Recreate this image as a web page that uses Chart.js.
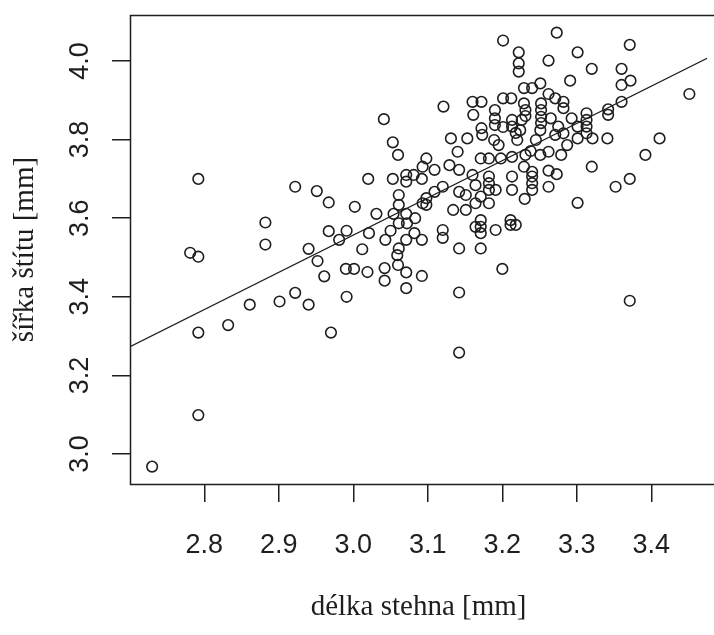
<!DOCTYPE html>
<html><head><meta charset="utf-8">
<script src="https://cdn.jsdelivr.net/npm/chart.js@4/dist/chart.umd.min.js"></script>
<style>html,body{margin:0;padding:0;background:#fff;overflow:hidden}</style>
</head><body>
<canvas id="c" width="714" height="635" style="width:714px;height:635px;display:block"></canvas>
<script>
// délka stehna [mm] (x) and šířka štítu [mm] (y)
const thighLength = [
2.730,2.792,2.792,2.792,2.781,2.792,2.832,2.861,2.882,2.882,2.901,2.922,2.922,2.940,2.940,2.951,2.952,2.961,2.967,2.967,
2.970,3.002,3.031,3.054,3.061,3.061,3.071,3.083,3.093,2.991,2.981,3.021,3.043,3.050,3.061,3.072,3.082,3.092,3.071,3.061,
3.059,3.012,2.990,3.001,3.019,3.042,3.060,3.071,3.092,3.042,3.071,2.991,3.142,3.142,3.142,3.171,3.200,3.120,3.120,
3.041,3.053,3.060,3.098,3.020,3.053,3.071,3.081,3.071,3.092,
3.201,3.222,3.222,3.222,3.229,3.121,3.160,3.172,3.161,3.201,3.212,3.190,3.190,3.190,3.172,3.213,3.213,3.226,3.229,
3.273,3.371,3.301,3.262,3.320,3.360,3.291,3.372,3.360,3.451,3.251,3.240,3.262,3.271,3.282,3.360,3.342,3.342,3.313,3.313,
3.313,3.313,3.231,3.231,3.252,3.252,3.252,3.252,3.293,3.282,3.301,3.275,3.321,3.301,3.341,3.411,3.392,3.279,3.262,3.251,
3.231,3.320,3.371,3.352,3.273,3.262,3.240,3.240,3.240,3.240,3.262,3.229,3.230,3.301,3.218,3.371,
3.245,3.271,3.287,3.265,3.220,3.238,3.224,3.282,3.251,3.201,3.218,3.195,
3.131,3.140,3.093,3.109,3.129,3.142,3.160,3.153,3.173,3.189,3.171,3.182,3.198,3.213,3.213,3.213,3.182,3.182,3.182,3.191,
3.164,3.142,3.151,3.120,3.109,3.098,3.098,3.134,3.151,3.164,3.171,3.182,3.171,3.171,3.171,3.164,3.191,3.211,3.211
];
const shieldWidth = [
2.968,3.099,3.309,3.700,3.512,3.502,3.328,3.380,3.589,3.533,3.388,3.680,3.410,3.522,3.380,3.669,3.491,3.452,3.640,3.567,
3.309,3.629,3.611,3.611,3.659,3.634,3.611,3.600,3.638,3.568,3.545,3.562,3.545,3.568,3.587,3.587,3.562,3.545,3.545,3.523,
3.506,3.521,3.471,3.471,3.463,3.473,3.481,3.462,3.453,3.441,3.422,3.400,3.411,3.258,3.523,3.523,3.471,3.570,3.550,
3.852,3.793,3.761,3.752,3.700,3.700,3.710,3.710,3.693,3.700,
4.052,4.022,3.994,3.973,3.931,3.884,3.896,3.896,3.863,3.905,3.905,3.875,3.854,3.837,3.829,3.850,3.833,3.850,3.892,
4.072,4.041,4.022,4.001,3.980,3.980,3.950,3.950,3.939,3.916,3.943,3.931,3.916,3.905,3.896,3.896,3.877,3.863,3.867,3.850,
3.833,3.816,3.875,3.860,3.892,3.875,3.858,3.842,3.854,3.880,3.833,3.833,3.803,3.803,3.803,3.803,3.761,3.761,3.769,3.761,
3.761,3.731,3.700,3.680,3.712,3.721,3.718,3.706,3.689,3.672,3.680,3.731,3.649,3.639,3.583,3.390,
3.799,3.812,3.786,3.854,3.799,3.771,3.824,3.816,3.824,3.832,3.817,3.786,
3.803,3.769,3.731,3.723,3.735,3.723,3.710,3.803,3.812,3.799,3.752,3.752,3.752,3.756,3.706,3.672,3.706,3.689,3.672,3.672,
3.684,3.667,3.659,3.680,3.667,3.651,3.634,3.621,3.621,3.638,3.655,3.638,3.595,3.578,3.562,3.578,3.570,3.595,3.583
];
// regression line endpoints at the plot edges
const fitLineX = [2.7003, 3.4748];
const fitLineY = [3.273, 4.007];
const xTicks = [2.8, 2.9, 3.0, 3.1, 3.2, 3.3, 3.4];
const yTicks = [3.0, 3.2, 3.4, 3.6, 3.8, 4.0];
const xRange = [2.7003, 3.4748];
const yRange = [2.9237, 4.117];
const xLabel = 'délka stehna [mm]';
const yLabel = 'šířka štítu [mm]';

const points = thighLength.map((x, i) => ({x: x, y: shieldWidth[i]}));
const linePts = fitLineX.map((x, i) => ({x: x, y: fitLineY[i]}));

const ink = '#1e1e1e';
const sansFont = '"Liberation Sans", Arial, sans-serif';
const serifFont = '"Liberation Serif", "Times New Roman", serif';

const boxPlugin = {
  id: 'box',
  beforeDatasetsDraw(chart) {
    const {ctx, chartArea: a} = chart;
    ctx.save();
    ctx.strokeStyle = ink;
    ctx.lineWidth = 1.5;
    ctx.beginPath();
    ctx.moveTo(chart.width + 5, a.top + 0.5);
    ctx.lineTo(a.left + 0.5, a.top + 0.5);
    ctx.lineTo(a.left + 0.5, a.bottom + 0.5);
    ctx.lineTo(chart.width + 5, a.bottom + 0.5);
    ctx.stroke();
    ctx.restore();
  }
};

new Chart(document.getElementById('c'), {
  type: 'scatter',
  data: {
    datasets: [
      {
        data: points,
        pointStyle: 'circle',
        pointRadius: 5.3,
        pointHoverRadius: 5.3,
        borderWidth: 1.6,
        borderColor: ink,
        backgroundColor: 'rgba(0,0,0,0)',
        showLine: false
      },
      {
        type: 'line',
        data: linePts,
        borderColor: ink,
        borderWidth: 1.3,
        pointRadius: 0,
        fill: false,
        tension: 0
      }
    ]
  },
  options: {
    responsive: false,
    animation: false,
    devicePixelRatio: 1,
    events: [],
    layout: {padding: {top: 15, left: 0, right: 0, bottom: 0}},
    plugins: {legend: {display: false}, tooltip: {enabled: false}},
    scales: {
      x: {
        type: 'linear',
        position: 'bottom',
        min: xRange[0],
        max: xRange[1],
        afterBuildTicks: s => { s.ticks = xTicks.map(v => ({value: v})); },
        afterFit: s => { s.height = 151; s.paddingLeft = 0; s.paddingRight = 0; },
        ticks: {
          callback: v => Number(v).toFixed(1),
          font: {family: sansFont, size: 27, lineHeight: 1.2},
          color: ink,
          padding: 27,
          minRotation: 0,
          maxRotation: 0,
          autoSkip: false
        },
        grid: {display: true, drawOnChartArea: false, drawTicks: true, tickLength: 18, color: ink, lineWidth: 1.5},
        border: {display: false},
        title: {
          display: true,
          text: xLabel,
          font: {family: serifFont, size: 29, lineHeight: 1.2},
          color: ink,
          padding: {top: 0, bottom: 10}
        }
      },
      y: {
        type: 'linear',
        position: 'left',
        min: yRange[0],
        max: yRange[1],
        afterBuildTicks: s => { s.ticks = yTicks.map(v => ({value: v})); },
        afterFit: s => { s.width = 130; s.paddingTop = 0; s.paddingBottom = 0; },
        ticks: {
          callback: v => Number(v).toFixed(1),
          font: {family: sansFont, size: 27, lineHeight: 1.2},
          color: ink,
          padding: 13,
          minRotation: 90,
          maxRotation: 90,
          crossAlign: 'center',
          autoSkip: false
        },
        grid: {display: true, drawOnChartArea: false, drawTicks: true, tickLength: 18, color: ink, lineWidth: 1.5},
        border: {display: false},
        title: {
          display: true,
          text: yLabel,
          font: {family: serifFont, size: 29, lineHeight: 1.2},
          color: ink,
          padding: {top: 8, bottom: 0}
        }
      }
    }
  },
  plugins: [boxPlugin]
});
</script>
</body></html>
